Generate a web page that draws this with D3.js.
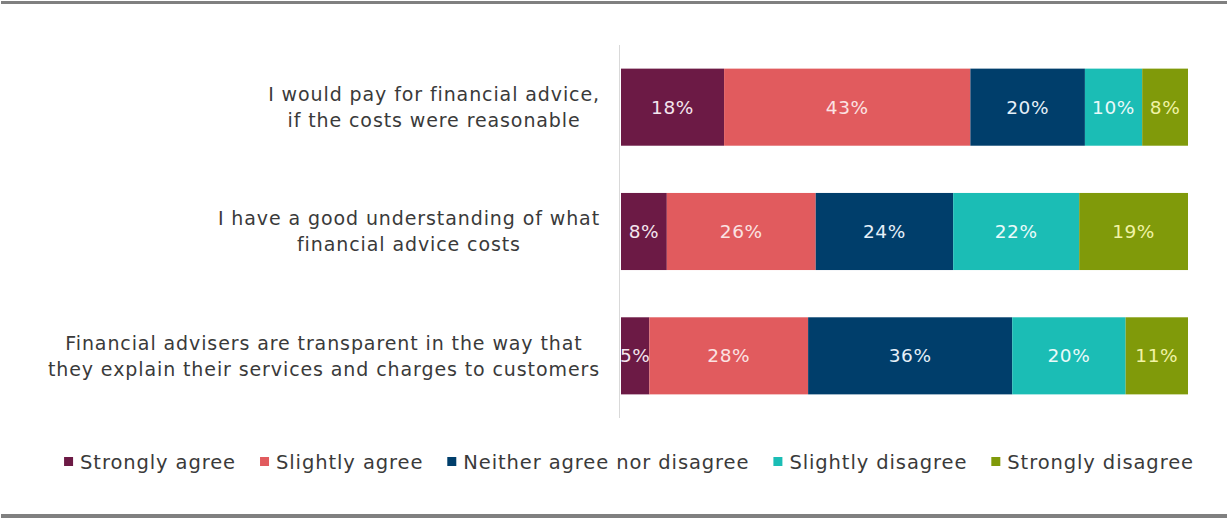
<!DOCTYPE html>
<html>
<head>
<meta charset="utf-8">
<script src="https://cdn.jsdelivr.net/npm/d3@7"></script>
<style>
  html, body { margin: 0; padding: 0; background: #fff; }
  svg { display: block; font-family: "DejaVu Sans", Verdana, sans-serif; }
</style>
</head>
<body>
<svg id="chart" width="1229" height="518"></svg>
<script>
// Survey statements (one bar each), each a list of text lines
const statements = [
  ["I would pay for financial advice,", "if the costs were reasonable"],
  ["I have a good understanding of what", "financial advice costs"],
  ["Financial advisers are transparent in the way that", "they explain their services and charges to customers"]
];
const statementKeys = ["pay", "understand", "transparent"];

// Response scale, in stacking order
const responses = ["Strongly agree", "Slightly agree", "Neither agree nor disagree", "Slightly disagree", "Strongly disagree"];
const responseColors = ["#6c1a45", "#e15b5e", "#003e6b", "#1bbdb5", "#809a0a"];
const labelColors = ["#f4e6ee", "#fbe3e3", "#e6f0f8", "#eafafa", "#f1f3a6"];

// Share of respondents (%), per response, for each statement
const stronglyAgree    = [18, 8, 5];
const slightlyAgree    = [43, 26, 28];
const neither          = [20, 24, 36];
const slightlyDisagree = [10, 22, 20];
const stronglyDisagree = [8, 19, 11];

const rows = statementKeys.map((k, i) => ({
  key: k,
  lines: statements[i],
  "Strongly agree": stronglyAgree[i],
  "Slightly agree": slightlyAgree[i],
  "Neither agree nor disagree": neither[i],
  "Slightly disagree": slightlyDisagree[i],
  "Strongly disagree": stronglyDisagree[i]
}));

const svg = d3.select("#chart");

// frame rules above and below
svg.append("rect").attr("x", 1).attr("y", 1).attr("width", 1226).attr("height", 3).attr("fill", "#808080");
svg.append("rect").attr("x", 1).attr("y", 514).attr("width", 1226).attr("height", 4).attr("fill", "#808080");

const x = d3.scaleLinear().domain([0, 1]).range([621, 1188]);
const y = d3.scaleBand().domain(statementKeys).range([45, 418]).paddingInner(0.38).paddingOuter(0.19);

// 100% stacked layout
const stack = d3.stack().keys(responses).offset(d3.stackOffsetExpand);
const series = stack(rows);

// vertical category axis line
svg.append("line")
  .attr("x1", 619.5).attr("x2", 619.5)
  .attr("y1", 45).attr("y2", 418)
  .attr("stroke", "#d9d9d9").attr("stroke-width", 1);

const groups = svg.append("g").selectAll("g")
  .data(series).join("g")
  .attr("fill", (d, i) => responseColors[i]);

groups.selectAll("rect")
  .data(d => d.map(v => ({ v, key: v.data.key })))
  .join("rect")
  .attr("x", d => x(d.v[0]))
  .attr("width", d => x(d.v[1]) - x(d.v[0]))
  .attr("y", d => y(d.key))
  .attr("height", y.bandwidth());

// value labels centred in each segment
series.forEach((s, si) => {
  svg.append("g").selectAll("text")
    .data(s).join("text")
    .attr("x", d => (x(d[0]) + x(d[1])) / 2)
    .attr("y", d => y(d.data.key) + y.bandwidth() / 2)
    .attr("dy", "0.36em")
    .attr("text-anchor", "middle")
    .attr("font-size", 18.5)
    .attr("letter-spacing", 0.6)
    .attr("fill", labelColors[si])
    .text(d => d.data[s.key] + "%");
});

// statement labels: lines centred on each other, block right-aligned to the axis
const catG = svg.append("g");
rows.forEach(r => {
  const g = catG.append("g");
  const cy = y(r.key) + y.bandwidth() / 2;
  const lh = 26;
  const texts = r.lines.map((line, li) =>
    g.append("text")
      .attr("y", cy + (li - (r.lines.length - 1) / 2) * lh)
      .attr("dy", "0.36em")
      .attr("text-anchor", "middle")
      .attr("font-size", 19)
      .attr("letter-spacing", 0.9)
      .attr("fill", "#3a3a3a")
      .text(line)
  );
  const maxW = d3.max(texts, t => t.node().getBBox().width);
  texts.forEach(t => t.attr("x", 600 - maxW / 2));
});

// legend
const legend = svg.append("g");
let lx = 0;
responses.forEach((name, i) => {
  const g = legend.append("g");
  g.append("rect").attr("x", 0).attr("y", -5).attr("width", 9).attr("height", 9).attr("fill", responseColors[i]);
  const t = g.append("text").attr("x", 16).attr("y", 0).attr("dy", "0.36em")
    .attr("font-size", 19.5).attr("letter-spacing", 0.9).attr("fill", "#3a3a3a").text(name);
  const w = 16 + t.node().getBBox().width;
  g.attr("transform", `translate(${lx},462)`);
  lx += w + 24;
});
const totalW = lx - 24;
legend.attr("transform", `translate(${629 - totalW / 2},0)`);
</script>
</body>
</html>
